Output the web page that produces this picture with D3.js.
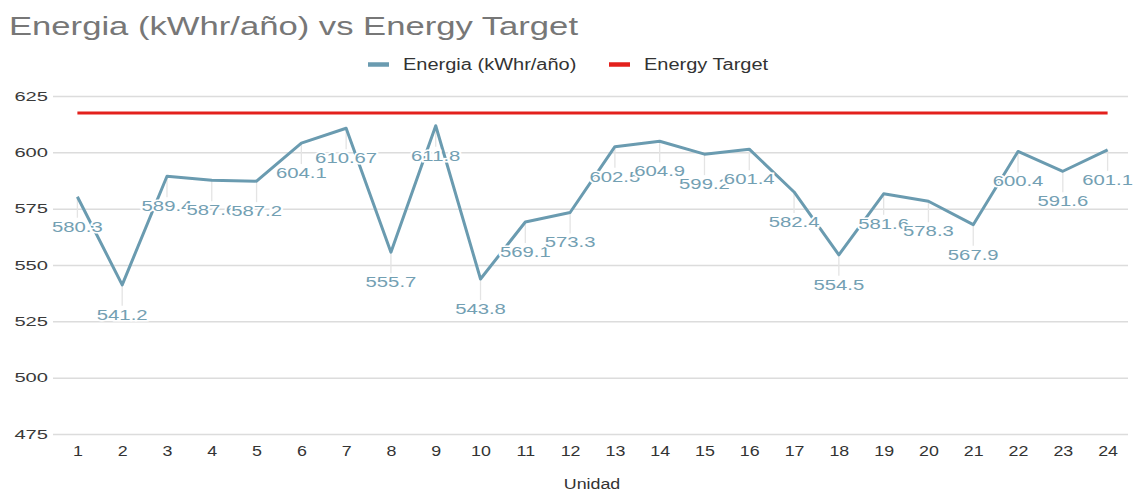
<!DOCTYPE html>
<html>
<head>
<meta charset="utf-8">
<script src="https://cdn.jsdelivr.net/npm/d3@7"></script>
<style>
  html, body { margin: 0; padding: 0; background: #fff; }
  svg { display: block; font-family: "Liberation Sans", Arial, sans-serif; }
</style>
</head>
<body>
<svg id="chart" width="1133" height="493"></svg>
<script>
// Energy per unit, compared with a flat target
const unidades = d3.range(1, 25);
const energia = [580.3, 541.2, 589.4, 587.6, 587.2, 604.1, 610.67, 555.7, 611.8, 543.8,
                 569.1, 573.3, 602.5, 604.9, 599.2, 601.4, 582.4, 554.5, 581.6, 578.3,
                 567.9, 600.4, 591.6, 601.1];
const energyTarget = 617.5;
const yTicks = [475, 500, 525, 550, 575, 600, 625];
const seriesNames = ["Energia (kWhr/año)", "Energy Target"];
const colors = ["#6a9bb0", "#e3201c"];
const labelColor = "#73a0b3";

const svg = d3.select("#chart");
const plotLeft = 53, plotRight = 1128, plotTop = 96, plotBottom = 434;

const x = d3.scalePoint().domain(unidades).range([55, 1130]).padding(0.5);
const y = d3.scaleLinear().domain([475, 625]).range([plotBottom, plotTop]);

// wide-set text: horizontal stretch about the text anchor
function widen(sel, s) {
  sel.attr("transform", function () {
    const tx = +this.getAttribute("x") || 0, ty = +this.getAttribute("y") || 0;
    return `translate(${tx},${ty}) scale(${s},1) translate(${-tx},${-ty})`;
  });
}

// Title
svg.append("text")
  .attr("x", 9).attr("y", 35)
  .attr("font-size", 25).attr("fill", "#777")
  .attr("textLength", 569).attr("lengthAdjust", "spacingAndGlyphs")
  .text("Energia (kWhr/año) vs Energy Target");

// Legend
const legendItems = [{ x: 368, name: seriesNames[0], c: colors[0] }, { x: 609, name: seriesNames[1], c: colors[1] }];
const legend = svg.append("g");
legendItems.forEach(d => {
  legend.append("line").attr("x1", d.x).attr("x2", d.x + 21).attr("y1", 64.5).attr("y2", 64.5)
    .attr("stroke", d.c).attr("stroke-width", 4.5);
  legend.append("text").attr("x", d.x + 35).attr("y", 70).attr("font-size", 16).attr("fill", "#333")
    .text(d.name).call(widen, 1.25);
});

// Gridlines + y axis labels
const yAxis = d3.axisLeft(y).tickValues(yTicks).tickSize(-(plotRight - plotLeft)).tickPadding(5);
const gy = svg.append("g").attr("transform", `translate(${plotLeft},0)`).call(yAxis);
gy.select(".domain").remove();
gy.selectAll(".tick line").attr("stroke", "#dcdcdc").attr("stroke-width", 1.5);
gy.selectAll(".tick text").attr("font-size", 13).attr("fill", "#3a3a3a")
  .attr("font-family", "'Liberation Sans', Arial, sans-serif").call(widen, 1.55);

// X axis labels
const xAxis = d3.axisBottom(x).tickSize(0).tickPadding(0);
const gx = svg.append("g").attr("transform", `translate(0,${plotBottom + 11})`).call(xAxis);
gx.select(".domain").remove();
gx.selectAll(".tick text").attr("font-size", 15.5).attr("fill", "#333")
  .attr("font-family", "'Liberation Sans', Arial, sans-serif").call(widen, 1.15);

svg.append("text").attr("x", 592).attr("y", 489).attr("text-anchor", "middle")
  .attr("font-size", 15.5).attr("fill", "#333").text("Unidad").call(widen, 1.15);

// Target line
svg.append("line")
  .attr("x1", x(unidades[0])).attr("x2", x(unidades[unidades.length - 1]))
  .attr("y1", y(energyTarget)).attr("y2", y(energyTarget))
  .attr("stroke", colors[1]).attr("stroke-width", 3);

// Leader ticks under each point
svg.append("g").selectAll("line").data(energia).join("line")
  .attr("x1", (d, i) => x(unidades[i])).attr("x2", (d, i) => x(unidades[i]))
  .attr("y1", d => y(d)).attr("y2", d => y(d) + 21)
  .attr("stroke", "#e4e4e4").attr("stroke-width", 1.3);

// Energy series
const line = d3.line().x((d, i) => x(unidades[i])).y(d => y(d));
svg.append("path").datum(energia)
  .attr("d", line).attr("fill", "none")
  .attr("stroke", colors[0]).attr("stroke-width", 3).attr("stroke-linejoin", "round");

// Value labels
svg.append("g").selectAll("text").data(energia).join("text")
  .attr("x", (d, i) => x(unidades[i])).attr("y", d => y(d) + 35)
  .attr("text-anchor", "middle").attr("font-size", 14)
  .attr("fill", labelColor)
  .attr("stroke", "#fff").attr("stroke-width", 3).attr("paint-order", "stroke")
  .text(d => String(d))
  .call(widen, 1.45);
</script>
</body>
</html>
